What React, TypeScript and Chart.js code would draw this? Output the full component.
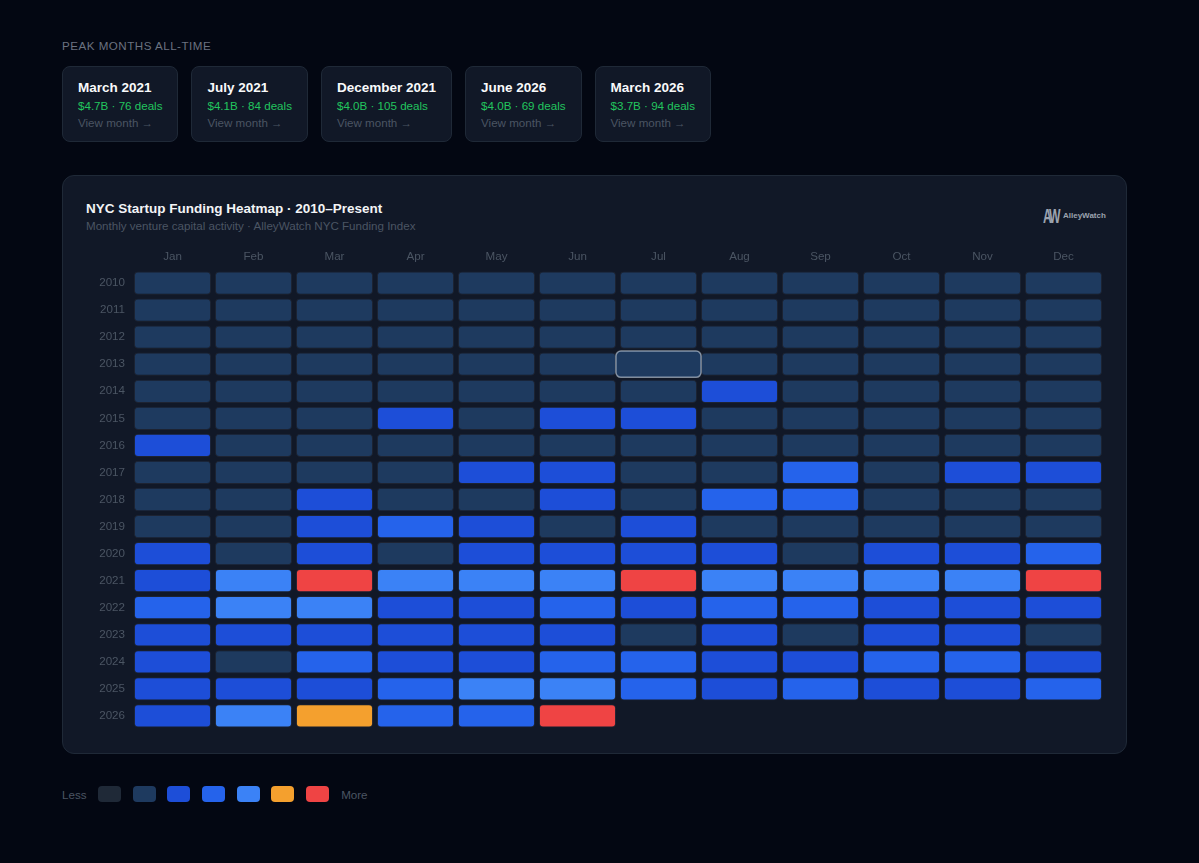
import React, { useEffect, useRef } from "react";
import { Chart, registerables } from "chart.js";

Chart.register(...registerables);

// ---- data -------------------------------------------------------------
const months = ["Jan", "Feb", "Mar", "Apr", "May", "Jun", "Jul", "Aug", "Sep", "Oct", "Nov", "Dec"];
const monthNames = ["January", "February", "March", "April", "May", "June", "July", "August", "September", "October", "November", "December"];
const years = ["2010", "2011", "2012", "2013", "2014", "2015", "2016", "2017", "2018", "2019", "2020", "2021", "2022", "2023", "2024", "2025", "2026"];

// monthly venture funding, $B
const f2010 = [0.12, 0.15, 0.21, 0.18, 0.16, 0.24, 0.19, 0.14, 0.22, 0.2, 0.17, 0.25];
const f2011 = [0.28, 0.22, 0.31, 0.35, 0.26, 0.38, 0.3, 0.29, 0.33, 0.27, 0.36, 0.32];
const f2012 = [0.34, 0.41, 0.37, 0.45, 0.39, 0.48, 0.36, 0.42, 0.4, 0.46, 0.38, 0.44];
const f2013 = [0.45, 0.52, 0.48, 0.61, 0.55, 0.5, 0.58, 0.47, 0.63, 0.54, 0.6, 0.57];
const f2014 = [0.62, 0.58, 0.71, 0.66, 0.74, 0.69, 0.77, 1.12, 0.68, 0.72, 0.8, 0.75];
const f2015 = [0.79, 0.83, 0.88, 1.21, 0.92, 1.15, 1.08, 0.86, 0.94, 0.81, 0.9, 0.85];
const f2016 = [1.05, 0.82, 0.91, 0.87, 0.95, 0.78, 0.84, 0.89, 0.93, 0.76, 0.88, 0.97];
const f2017 = [0.84, 0.92, 0.88, 0.95, 1.18, 1.26, 0.9, 0.86, 1.72, 0.94, 1.14, 1.31];
const f2018 = [0.89, 0.96, 1.24, 0.93, 0.98, 1.33, 0.91, 1.78, 1.85, 0.97, 0.94, 0.92];
const f2019 = [0.95, 0.91, 1.29, 1.81, 1.37, 0.97, 1.22, 0.93, 0.99, 0.96, 0.98, 0.94];
const f2020 = [1.41, 0.96, 1.18, 0.88, 1.27, 1.35, 1.46, 1.23, 0.98, 1.38, 1.52, 1.94];
const f2021 = [1.55, 2.48, 4.7, 2.86, 3.12, 2.74, 4.1, 2.95, 3.05, 3.21, 2.67, 4.0];
const f2022 = [2.05, 2.64, 2.51, 1.48, 1.39, 1.92, 1.44, 1.86, 1.98, 1.36, 1.29, 1.22];
const f2023 = [1.18, 1.09, 1.27, 1.14, 1.31, 1.21, 0.92, 1.16, 0.97, 1.24, 1.12, 0.95];
const f2024 = [1.34, 0.98, 1.77, 1.42, 1.26, 1.83, 1.95, 1.38, 1.47, 2.02, 1.89, 1.33];
const f2025 = [1.45, 1.52, 1.41, 1.88, 2.38, 2.56, 1.97, 1.49, 2.11, 1.43, 1.58, 1.92];
const f2026 = [1.56, 2.42, 3.7, 1.84, 2.06, 4.0];

const fundingRows = [f2010, f2011, f2012, f2013, f2014, f2015, f2016, f2017, f2018, f2019, f2020, f2021, f2022, f2023, f2024, f2025, f2026];

// deal counts for the five biggest months, in ranked order
const peakDeals = [76, 84, 105, 69, 94];

// colour scale: level 0 = no activity, then rising buckets
const levelThresholds = [1.0, 1.6, 2.2, 3.5, 3.9];
const levelColors = ["#1f2937", "#1e3a5f", "#1d4ed8", "#2563eb", "#3b82f6", "#f4a02e", "#ef4444"];

const selectedCell = { year: "2013", month: "Jul" };

function levelOf(v: number) {
  if (v <= 0) return 0;
  let l = 1;
  for (const t of levelThresholds) if (v >= t) l++;
  return l;
}

function topMonths(n: number) {
  const all: { year: string; m: number; v: number }[] = [];
  fundingRows.forEach((row, yi) => row.forEach((v, m) => all.push({ year: years[yi], m, v })));
  return all
    .map((d, i) => ({ ...d, i }))
    .sort((a, b) => b.v - a.v || a.i - b.i)
    .slice(0, n);
}

const FONT = "'Liberation Sans', Arial, Helvetica, sans-serif";
const SMALL = 11.6;
const TITLE = 13.5;

const selectedPlugin = {
  id: "selectedCell",
  afterDatasetsDraw(chart: any) {
    const mi = months.indexOf(selectedCell.month);
    const yi = years.indexOf(selectedCell.year);
    const el = chart.getDatasetMeta(mi).data[yi];
    if (!el) return;
    const { x, y, base, height } = el.getProps(["x", "y", "base", "height"], true);
    const left = Math.min(x, base) - 4;
    const right = Math.max(x, base) + 4;
    const top = y - height / 2 - 1.5;
    const h = height + 3;
    const ctx = chart.ctx;
    ctx.save();
    ctx.beginPath();
    ctx.roundRect(left, top, right - left, h, 5);
    ctx.fillStyle = levelColors[levelOf(fundingRows[yi][mi])];
    ctx.fill();
    ctx.lineWidth = 1.5;
    ctx.strokeStyle = "rgba(203,213,225,0.6)";
    ctx.stroke();
    ctx.restore();
  },
};

function Heatmap() {
  const ref = useRef<HTMLCanvasElement>(null);
  useEffect(() => {
    if (!ref.current) return;
    const inset = 0.024;
    const datasets = months.map((mName, m) => ({
      label: mName,
      data: years.map((_, yi) => (fundingRows[yi][m] == null ? null : [m + inset, m + 1 - inset])),
      backgroundColor: years.map((_, yi) => {
        const v = fundingRows[yi][m];
        return v == null ? "transparent" : levelColors[levelOf(v)];
      }),
      borderColor: "rgba(255,255,255,0.05)",
      borderWidth: 1,
      borderRadius: 4,
      borderSkipped: false,
      grouped: false,
      barPercentage: 0.86,
      categoryPercentage: 1,
    }));
    const chart = new Chart(ref.current, {
      type: "bar",
      data: { labels: years, datasets: datasets as any },
      plugins: [selectedPlugin],
      options: {
        indexAxis: "y",
        animation: false,
        responsive: true,
        maintainAspectRatio: false,
        events: [],
        layout: { padding: { left: 0, right: 16, top: 0, bottom: 8.5 } },
        plugins: { legend: { display: false }, tooltip: { enabled: false } },
        scales: {
          x: { type: "linear", min: 0, max: 12, display: false },
          xMonths: {
            type: "category",
            labels: months,
            position: "top",
            offset: true,
            grid: { display: false, drawTicks: false },
            border: { display: false },
            ticks: { color: "#4b5563", font: { family: FONT, size: SMALL }, padding: 6 },
            afterFit: (s: any) => {
              s.height = 31.5;
              s.paddingLeft = 0;
              s.paddingRight = 0;
            },
          },
          y: {
            type: "category",
            offset: true,
            grid: { display: false, drawTicks: false },
            border: { display: false },
            ticks: { color: "#4b5563", font: { family: FONT, size: SMALL }, padding: 7 },
            afterFit: (s: any) => {
              s.width = 62;
              s.paddingTop = 0;
              s.paddingBottom = 0;
            },
          },
        } as any,
      },
    });
    return () => chart.destroy();
  }, []);
  return <canvas ref={ref} />;
}

export default function App() {
  const peaks = topMonths(5);
  return (
    <div
      style={{
        position: "fixed",
        inset: 0,
        width: 1199,
        height: 863,
        background: "#030712",
        fontFamily: FONT,
        overflow: "hidden",
      }}
    >
      <div
        style={{
          position: "absolute",
          left: 62,
          top: 39,
          fontSize: SMALL,
          letterSpacing: 0.5,
          color: "#6b7280",
          lineHeight: "14px",
        }}
      >
        PEAK MONTHS ALL-TIME
      </div>

      <div style={{ position: "absolute", left: 62, top: 66, display: "flex", gap: 13 }}>
        {peaks.map((p, i) => (
          <div
            key={i}
            style={{
              height: 76,
              boxSizing: "border-box",
              padding: "12px 15px 0 15px",
              background: "#111827",
              border: "1px solid #1f2937",
              borderRadius: 8,
            }}
          >
            <div style={{ color: "#f9fafb", fontWeight: 700, fontSize: TITLE, lineHeight: "18px", whiteSpace: "nowrap" }}>
              {monthNames[p.m]} {p.year}
            </div>
            <div style={{ color: "#22c55e", fontSize: SMALL, lineHeight: "17px", whiteSpace: "nowrap" }}>
              ${p.v.toFixed(1)}B · {peakDeals[i]} deals
            </div>
            <div style={{ color: "#4b5563", fontSize: SMALL, lineHeight: "18px", whiteSpace: "nowrap" }}>
              View month →
            </div>
          </div>
        ))}
      </div>

      <div
        style={{
          position: "absolute",
          left: 62,
          top: 175,
          width: 1065,
          height: 579,
          boxSizing: "border-box",
          background: "#111827",
          border: "1px solid #1f2937",
          borderRadius: 12,
        }}
      >
        <div
          style={{
            position: "absolute",
            left: 23,
            top: 24,
            color: "#f3f4f6",
            fontWeight: 700,
            fontSize: TITLE,
            lineHeight: "18px",
          }}
        >
          NYC Startup Funding Heatmap · 2010–Present
        </div>
        <div
          style={{
            position: "absolute",
            left: 23,
            top: 43,
            color: "#4b5563",
            fontSize: SMALL,
            lineHeight: "14px",
          }}
        >
          Monthly venture capital activity · AlleyWatch NYC Funding Index
        </div>
        <div
          style={{
            position: "absolute",
            left: 980,
            top: 31,
            height: 17,
            display: "flex",
            alignItems: "center",
            color: "#9ca3af",
          }}
        >
          <span style={{ display: "inline-block", width: 19, height: 17, overflow: "visible", position: "relative" }}>
            <span
              style={{
                position: "absolute",
                left: 0,
                top: -2,
                fontWeight: 700,
                fontSize: 21,
                lineHeight: "21px",
                letterSpacing: -3.5,
                transform: "scaleX(0.58)",
                transformOrigin: "left center",
                whiteSpace: "nowrap",
              }}
            >
              AW
            </span>
          </span>
          <span style={{ fontWeight: 700, fontSize: 8, lineHeight: "10px", marginLeft: 1, whiteSpace: "nowrap" }}>AlleyWatch</span>
        </div>
        <div style={{ position: "absolute", left: 7, top: 62, width: 1050, height: 500 }}>
          <Heatmap />
        </div>
      </div>

      <div style={{ position: "absolute", left: 62, top: 786, display: "flex", alignItems: "center", height: 16 }}>
        <span style={{ color: "#4b5563", fontSize: SMALL, width: 36, display: "inline-block" }}>Less</span>
        {levelColors.map((c, i) => (
          <span
            key={i}
            style={{
              display: "inline-block",
              width: 23,
              height: 16,
              borderRadius: 4,
              background: c,
              marginRight: i === levelColors.length - 1 ? 12 : 11.7,
            }}
          />
        ))}
        <span style={{ color: "#4b5563", fontSize: SMALL }}>More</span>
      </div>
    </div>
  );
}
